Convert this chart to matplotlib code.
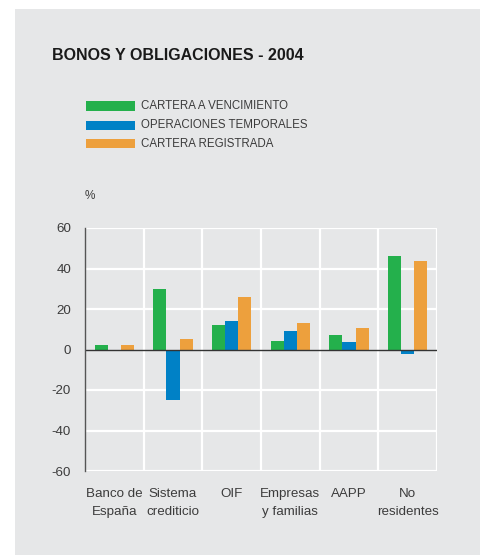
import matplotlib
matplotlib.use("Agg")
import matplotlib.pyplot as plt
import numpy as np
from matplotlib.patches import Rectangle

plt.rcParams['font.family'] = ['Liberation Sans', 'DejaVu Sans']

categories = ["Banco de\nEspaña", "Sistema\ncrediticio", "OIF", "Empresas\ny familias", "AAPP", "No\nresidentes"]
series_names = ["CARTERA A VENCIMIENTO", "OPERACIONES TEMPORALES", "CARTERA REGISTRADA"]
cartera_vencimiento = [2, 30, 12, 4, 7, 46]
operaciones_temporales = [0, -25, 14, 9, 3.5, -2]
cartera_registrada = [2, 5, 26, 13, 10.5, 43.5]
yticks = [-60, -40, -20, 0, 20, 40, 60]

colors = ["#24b04c", "#0081c6", "#eda03d"]
bg = "#e6e7e8"
txt = "#3c3c3c"

W, H = 480, 555
fig = plt.figure(figsize=(W/100, H/100), dpi=100, facecolor="white")
fig.patches.append(Rectangle((15/W, 0), 1 - 15/W, (H - 9)/H, transform=fig.transFigure,
                             facecolor=bg, edgecolor="none", zorder=-1))

fig.text(52/W, 1 - 55/H, "BONOS Y OBLIGACIONES - 2004", fontsize=11.5, fontweight="bold",
         color="#1a1a1a", va="center", ha="left")

# legend
for i, (name, c) in enumerate(zip(series_names, colors)):
    yc = 106 + i * 19
    fig.patches.append(Rectangle((86/W, 1 - (yc + 4.5)/H), 49/W, 9/H, transform=fig.transFigure,
                                 facecolor=c, edgecolor="none"))
    fig.text(141/W, 1 - yc/H, name, fontsize=8.3, color=txt, va="center", ha="left")

fig.text(90/W, 1 - 196/H, "%", fontsize=8.5, color=txt, va="center", ha="center")

ax = fig.add_axes([85/W, 84/H, (437 - 85)/W, (471 - 228)/H])
ax.set_zorder(2)
ax.set_facecolor(bg)
x = np.arange(len(categories))
w = 0.222
data = [cartera_vencimiento, operaciones_temporales, cartera_registrada]
for j, (vals, c) in enumerate(zip(data, colors)):
    ax.bar(x + (j - 1) * w, vals, width=w, color=c, zorder=3)

ax.set_xlim(-0.5, len(categories) - 0.5)
ax.set_ylim(-60, 60)
ax.set_yticks(yticks)
ax.set_yticklabels([str(v) for v in yticks])
for yv in yticks:
    if yv != 0:
        ax.axhline(yv, color="white", lw=1.6, zorder=1)
for xv in np.arange(-0.5, len(categories), 1.0):
    if xv > -0.5:
        ax.axvline(xv, color="white", lw=1.6, zorder=1)
ax.axhline(0, color="#333333", lw=1.0, zorder=4)
ax.set_xticks(x)
ax.set_xticklabels(categories, linespacing=1.7)
ax.tick_params(axis="both", length=0, labelsize=9.6, colors=txt)
ax.tick_params(axis="y", pad=10)
ax.tick_params(axis="x", pad=12)
for s in ["top", "right", "bottom"]:
    ax.spines[s].set_visible(False)
ax.spines["left"].set_color("#555555")
ax.spines["left"].set_linewidth(1.0)
ax.spines["left"].set_zorder(5)

fig.savefig("out.png", dpi=100, facecolor="white")
